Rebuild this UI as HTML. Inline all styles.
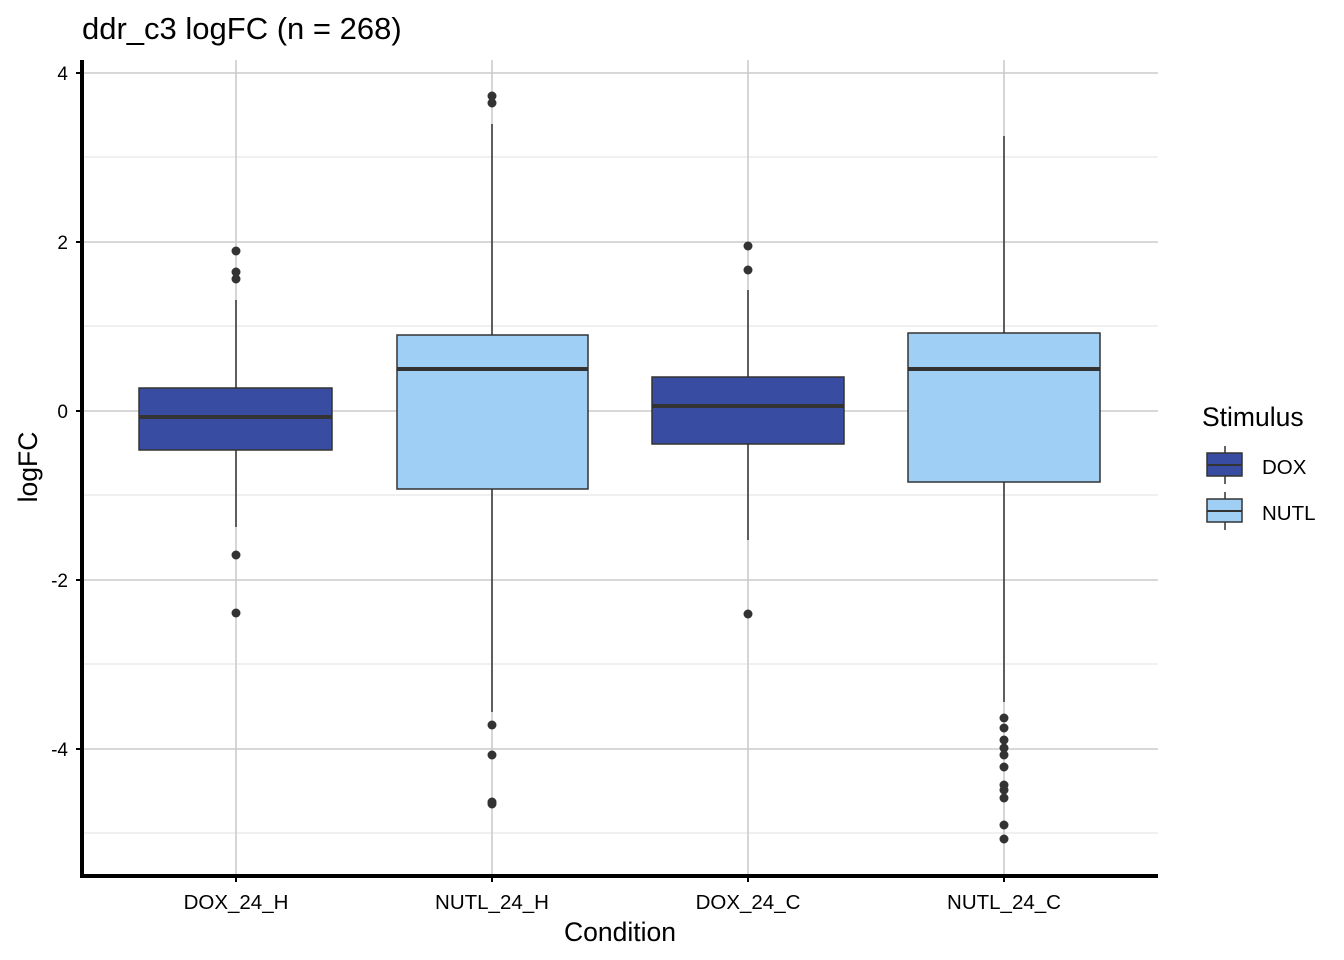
<!DOCTYPE html>
<html><head><meta charset="utf-8"><style>body{margin:0;background:#fff}svg{display:block}</style></head><body>
<svg width="1344" height="960" xmlns="http://www.w3.org/2000/svg" font-family="Liberation Sans, Arial, sans-serif">
<rect width="1344" height="960" fill="#fff"/>
<g stroke="#e6e6e6" stroke-width="1.2">
<line x1="82" x2="1158" y1="157" y2="157"/><line x1="82" x2="1158" y1="326" y2="326"/>
<line x1="82" x2="1158" y1="495" y2="495"/><line x1="82" x2="1158" y1="664" y2="664"/>
<line x1="82" x2="1158" y1="833" y2="833"/>
</g>
<g stroke="#cccccc" stroke-width="1.6">
<line x1="82" x2="1158" y1="73" y2="73"/><line x1="82" x2="1158" y1="242" y2="242"/>
<line x1="82" x2="1158" y1="411" y2="411"/><line x1="82" x2="1158" y1="580" y2="580"/>
<line x1="82" x2="1158" y1="749" y2="749"/>
<line x1="236" x2="236" y1="60" y2="876"/><line x1="492" x2="492" y1="60" y2="876"/>
<line x1="748" x2="748" y1="60" y2="876"/><line x1="1004" x2="1004" y1="60" y2="876"/>
</g>
<g stroke="#333" stroke-width="1.5">
<line x1="236" x2="236" y1="300" y2="527"/><line x1="492" x2="492" y1="124" y2="712"/>
<line x1="748" x2="748" y1="290" y2="540"/><line x1="1004" x2="1004" y1="136" y2="702"/>
<rect x="139" y="388" width="193" height="62" fill="#384ca1"/>
<rect x="397" y="335" width="191" height="154" fill="#a0cff6"/>
<rect x="652" y="377" width="192" height="67" fill="#384ca1"/>
<rect x="908" y="333" width="192" height="149" fill="#a0cff6"/>
</g>
<g stroke="#333" stroke-width="4">
<line x1="139" x2="332" y1="417" y2="417"/><line x1="397" x2="588" y1="369" y2="369"/>
<line x1="652" x2="844" y1="406" y2="406"/><line x1="908" x2="1100" y1="369" y2="369"/>
</g>
<g fill="#333">
<circle cx="236" cy="251" r="4.5"/><circle cx="236" cy="272" r="4.5"/><circle cx="236" cy="279" r="4.5"/><circle cx="236" cy="555" r="4.5"/><circle cx="236" cy="613" r="4.5"/>
<circle cx="492" cy="96" r="4.5"/><circle cx="492" cy="103" r="4.5"/><circle cx="492" cy="725" r="4.5"/><circle cx="492" cy="755" r="4.5"/><circle cx="492" cy="802" r="4.5"/><circle cx="492" cy="804" r="4.5"/>
<circle cx="748" cy="246" r="4.5"/><circle cx="748" cy="270" r="4.5"/><circle cx="748" cy="614" r="4.5"/>
<circle cx="1004" cy="718" r="4.5"/><circle cx="1004" cy="728" r="4.5"/><circle cx="1004" cy="740" r="4.5"/><circle cx="1004" cy="748" r="4.5"/><circle cx="1004" cy="755" r="4.5"/><circle cx="1004" cy="767" r="4.5"/><circle cx="1004" cy="785" r="4.5"/><circle cx="1004" cy="790" r="4.5"/><circle cx="1004" cy="798" r="4.5"/><circle cx="1004" cy="825" r="4.5"/><circle cx="1004" cy="839" r="4.5"/>
</g>
<g stroke="#000" stroke-width="4"><line x1="82" x2="82" y1="60" y2="878"/><line x1="80" x2="1158" y1="876" y2="876"/></g>
<g stroke="#000" stroke-width="2">
<line x1="76" x2="82" y1="73" y2="73"/><line x1="76" x2="82" y1="242" y2="242"/><line x1="76" x2="82" y1="411" y2="411"/><line x1="76" x2="82" y1="580" y2="580"/><line x1="76" x2="82" y1="749" y2="749"/>
<line x1="236" x2="236" y1="876" y2="882"/><line x1="492" x2="492" y1="876" y2="882"/><line x1="748" x2="748" y1="876" y2="882"/><line x1="1004" x2="1004" y1="876" y2="882"/>
</g>
<g font-size="19" text-anchor="end" fill="#000">
<text x="68" y="80">4</text><text x="68" y="249">2</text><text x="68" y="418">0</text><text x="68" y="587">-2</text><text x="68" y="756">-4</text>
</g>
<g font-size="20.5" text-anchor="middle" fill="#000">
<text x="236" y="909">DOX_24_H</text><text x="492" y="909">NUTL_24_H</text><text x="748" y="909">DOX_24_C</text><text x="1004" y="909">NUTL_24_C</text>
</g>
<text x="620" y="941" font-size="26.5" text-anchor="middle">Condition</text>
<text transform="translate(37,467) rotate(-90)" font-size="26.5" text-anchor="middle">logFC</text>
<text x="82" y="39" font-size="31">ddr_c3 logFC (n = 268)</text>
<text x="1202" y="426" font-size="26.5">Stimulus</text>
<g stroke="#333" stroke-width="1.5">
<line x1="1225" x2="1225" y1="446" y2="484"/><rect x="1207" y="453" width="35" height="23" fill="#384ca1"/><line x1="1207" x2="1242" y1="465" y2="465" stroke-width="2"/>
<line x1="1225" x2="1225" y1="492" y2="530"/><rect x="1207" y="499" width="35" height="23" fill="#a0cff6"/><line x1="1207" x2="1242" y1="511" y2="511" stroke-width="2"/>
</g>
<text x="1262" y="474" font-size="20.5">DOX</text><text x="1262" y="520" font-size="20.5">NUTL</text>
</svg>
</body></html>
